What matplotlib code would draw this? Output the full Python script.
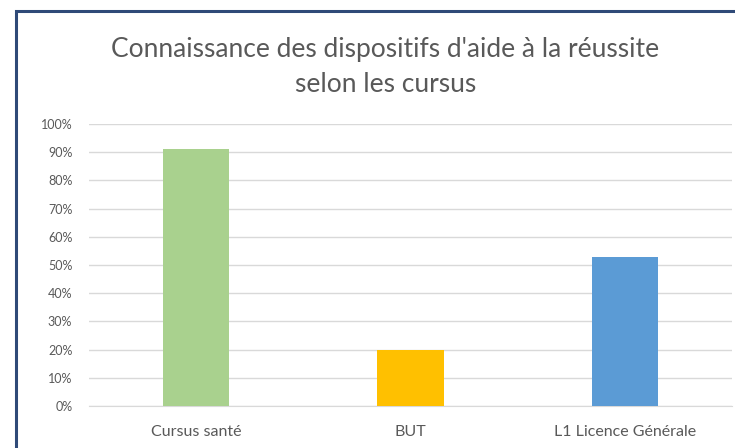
import matplotlib
matplotlib.use("Agg")
import matplotlib.pyplot as plt
from matplotlib.patches import Rectangle
from matplotlib.ticker import MultipleLocator, PercentFormatter

categories = ["Cursus santé", "BUT", "L1 Licence Générale"]
values = [91, 20, 53]
colors = ["#A9D18E", "#FFC000", "#5B9BD5"]
title = "Connaissance des dispositifs d'aide à la réussite\nselon les cursus"

plt.rcParams['font.family'] = ['Lato', 'DejaVu Sans']
text_color = "#595959"

fig = plt.figure(figsize=(7.35, 4.48), dpi=100)
ax = fig.add_axes([89 / 735, 42 / 448, (732 - 89) / 735, (406 - 124) / 448])

x = range(len(categories))
ax.bar(x, values, width=0.31, color=colors, zorder=3)

ax.set_xlim(-0.5, 2.5)
ax.set_ylim(0, 100)
ax.yaxis.set_major_locator(MultipleLocator(10))
ax.yaxis.set_major_formatter(PercentFormatter(decimals=0))
ax.set_xticks(list(x))
ax.set_xticklabels(categories)
ax.grid(axis='y', color="#D9D9D9", linewidth=1, zorder=0)
for s in ax.spines.values():
    s.set_visible(False)
ax.spines['bottom'].set_visible(True)
ax.spines['bottom'].set_color("#D9D9D9")
ax.tick_params(axis='both', length=0, colors=text_color)
ax.tick_params(axis='x', pad=14, labelsize=11.5)
ax.tick_params(axis='y', pad=12, labelsize=9)

fig.text(0.524, 1 - 67 / 448, title, ha='center', va='center',
         fontsize=19, color=text_color, linespacing=1.45)

# chart frame (left and top edges visible in the crop)
fig.patches.append(Rectangle((16 / 735, -0.1), 1.2, 1 - 11 / 448 + 0.1,
                             transform=fig.transFigure, fill=False,
                             edgecolor="#2F4A78", linewidth=2.2))

fig.savefig("out.png", dpi=100)
